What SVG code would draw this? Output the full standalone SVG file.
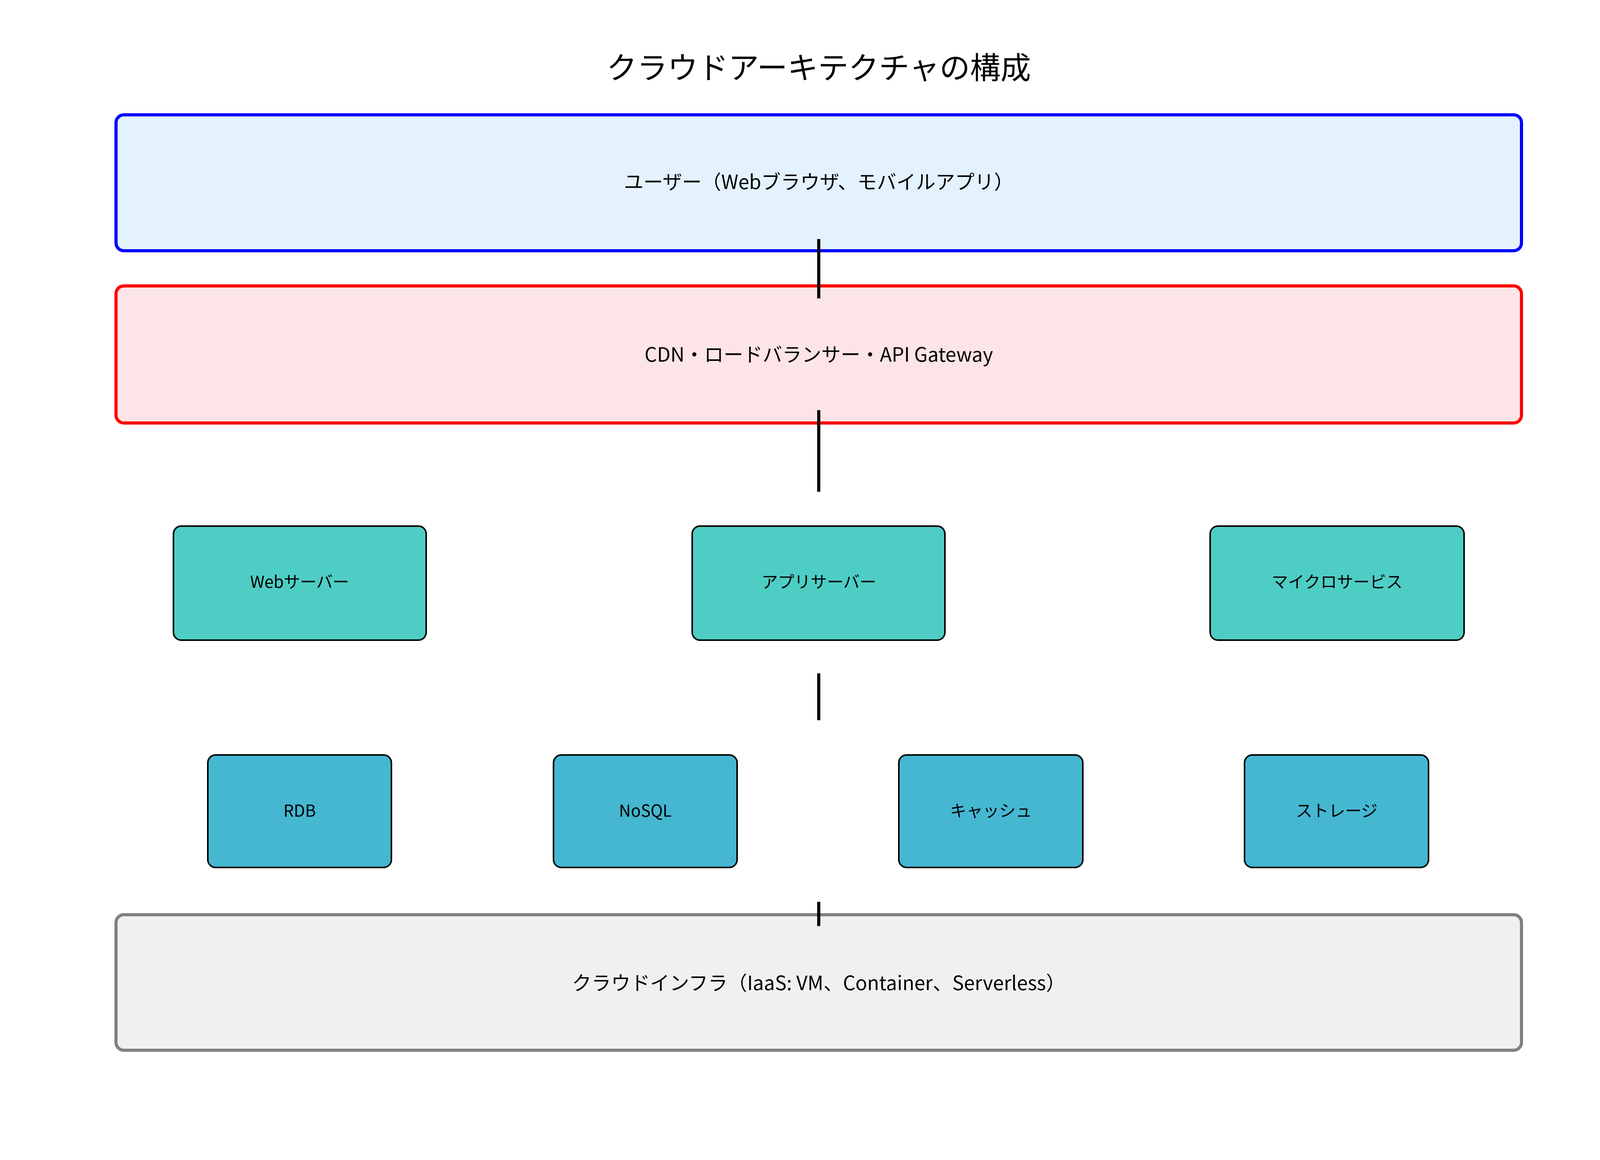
<svg xmlns="http://www.w3.org/2000/svg" width="4170" height="2970" viewBox="0 0 4170 2970">
<style>
text{font-family:"Noto Sans CJK JP","Noto Sans",sans-serif;text-anchor:middle;dominant-baseline:central;fill:#000}
.big{stroke-width:8}
.svc rect{fill:#4ECDC4;stroke:#000;stroke-width:4}
.db rect{fill:#45B7D1;stroke:#000;stroke-width:4}
.small{font-size:42px}
.mid{font-size:50px}
#conn line{stroke:#000;stroke-width:8}
</style>
<rect width="4170" height="2970" fill="#fff"/>
<text x="2096" y="168" font-size="78">クラウドアーキテクチャの構成</text>
<g id="users"><rect class="big" x="297" y="294" width="3598" height="348" rx="20" fill="#E3F2FD" stroke="#0000FF"/><text class="mid" x="2096" y="462">ユーザー（Webブラウザ、モバイルアプリ）</text></g>
<g id="edge"><rect class="big" x="297" y="732" width="3598" height="351" rx="20" fill="#FDE4E6" stroke="#FF0000"/><text class="mid" x="2096" y="904">CDN・ロードバランサー・API Gateway</text></g>
<g id="web" class="svc"><rect x="444" y="1347" width="647" height="292" rx="20"/><text class="small" x="767" y="1486">Webサーバー</text></g>
<g id="app" class="svc"><rect x="1772" y="1347" width="647" height="292" rx="20"/><text class="small" x="2096" y="1486">アプリサーバー</text></g>
<g id="micro" class="svc"><rect x="3098" y="1347" width="650" height="292" rx="20"/><text class="small" x="3423" y="1486">マイクロサービス</text></g>
<g id="rdb" class="db"><rect x="532" y="1933" width="470" height="288" rx="20"/><text class="small" x="767" y="2072">RDB</text></g>
<g id="nosql" class="db"><rect x="1417" y="1933" width="470" height="288" rx="20"/><text class="small" x="1652" y="2072">NoSQL</text></g>
<g id="cache" class="db"><rect x="2301" y="1933" width="471" height="288" rx="20"/><text class="small" x="2537" y="2072">キャッシュ</text></g>
<g id="storage" class="db"><rect x="3186" y="1933" width="471" height="288" rx="20"/><text class="small" x="3422" y="2072">ストレージ</text></g>
<g id="infra"><rect class="big" x="297" y="2342" width="3598" height="347" rx="20" fill="#F0F0F0" stroke="#808080"/><text class="mid" x="2096" y="2513">クラウドインフラ（IaaS: VM、Container、Serverless）</text></g>
<g id="conn"><line x1="2096" y1="612" x2="2096" y2="764"/><line x1="2096" y1="1050" x2="2096" y2="1259"/><line x1="2096" y1="1724" x2="2096" y2="1844"/><line x1="2096" y1="2309" x2="2096" y2="2371"/></g>
</svg>
